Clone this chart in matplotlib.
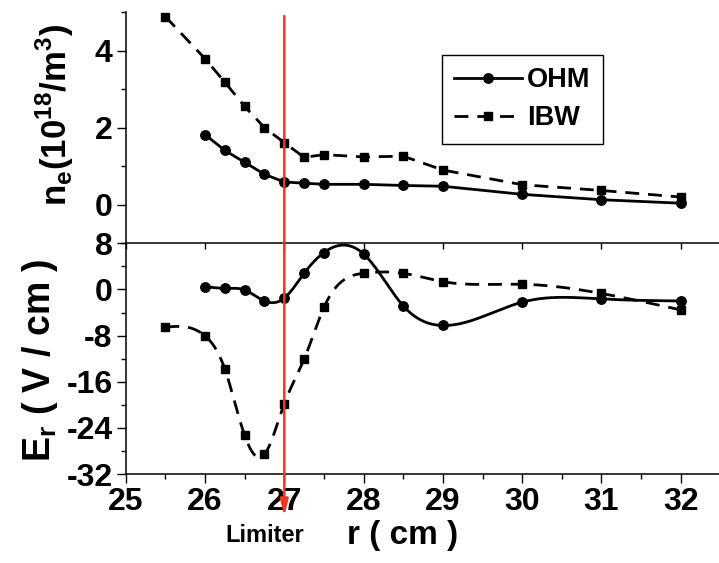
import numpy as np
import matplotlib
matplotlib.use("Agg")
import matplotlib.pyplot as plt
from matplotlib.ticker import MultipleLocator, NullLocator

plt.rcParams["font.family"] = ["Liberation Sans", "DejaVu Sans"]
plt.rcParams["font.weight"] = "bold"
plt.rcParams["axes.unicode_minus"] = False
plt.rcParams["mathtext.fontset"] = "custom"
plt.rcParams["mathtext.rm"] = "Liberation Sans:bold"
plt.rcParams["mathtext.bf"] = "Liberation Sans:bold"

# Electron density profiles n_e (10^18 m^-3)
r_ne_ohm = [26, 26.25, 26.5, 26.75, 27, 27.25, 27.5, 28, 28.5, 29, 30, 31, 32]
ne_ohm = [1.82, 1.41, 1.10, 0.79, 0.59, 0.56, 0.53, 0.53, 0.50, 0.48, 0.27, 0.13, 0.04]
r_ne_ibw = [25.5, 26, 26.25, 26.5, 26.75, 27, 27.25, 27.5, 28, 28.5, 29, 30, 31, 32]
ne_ibw = [4.88, 3.79, 3.18, 2.55, 2.00, 1.61, 1.23, 1.30, 1.24, 1.26, 0.90, 0.52, 0.37, 0.20]

# Radial electric field profiles E_r (V/cm)
r_er_ohm = [26, 26.25, 26.5, 26.75, 27, 27.25, 27.5, 28, 28.5, 29, 30, 31, 32]
er_ohm = [0.5, 0.2, -0.1, -2.0, -1.5, 2.8, 6.4, 6.15, -2.85, -6.25, -2.2, -1.65, -2.0]
r_er_ibw = [25.5, 26, 26.25, 26.5, 26.75, 27, 27.25, 27.5, 28, 28.5, 29, 30, 31, 32]
er_ibw = [-6.55, -8.05, -13.8, -25.3, -28.6, -19.8, -12.1, -3.1, 2.8, 2.8, 1.35, 0.9, -0.7, -3.55]

limiter_r = 27
series_labels = ["OHM", "IBW"]
x_ticks = [25, 26, 27, 28, 29, 30, 31, 32]


def natural_spline(x, y, n=600):
    """Natural cubic spline through (x, y), sampled at n points."""
    x = np.asarray(x, float)
    y = np.asarray(y, float)
    h = np.diff(x)
    m = len(x)
    A = np.zeros((m, m))
    b = np.zeros(m)
    A[0, 0] = A[-1, -1] = 1.0
    for i in range(1, m - 1):
        A[i, i - 1] = h[i - 1]
        A[i, i] = 2 * (h[i - 1] + h[i])
        A[i, i + 1] = h[i]
        b[i] = 6 * ((y[i + 1] - y[i]) / h[i] - (y[i] - y[i - 1]) / h[i - 1])
    M = np.linalg.solve(A, b)
    xs = np.linspace(x[0], x[-1], n)
    idx = np.clip(np.searchsorted(x, xs) - 1, 0, m - 2)
    x0, x1 = x[idx], x[idx + 1]
    hh = x1 - x0
    t0, t1 = x1 - xs, xs - x0
    ys = (M[idx] * t0 ** 3 + M[idx + 1] * t1 ** 3) / (6 * hh) \
        + (y[idx] / hh - M[idx] * hh / 6) * t0 \
        + (y[idx + 1] / hh - M[idx + 1] * hh / 6) * t1
    return xs, ys


W, H = 719, 563
fig = plt.figure(figsize=(W / 100, H / 100), dpi=100)

left = 125.7 / W
y_div = (H - 243.3) / H
y_top = (H - 12) / H
y_bot = (H - 474) / H
ax1 = fig.add_axes([left, y_div, 1 - left, y_top - y_div])
ax2 = fig.add_axes([left, y_bot, 1 - left, y_div - y_bot])

xlim = (25, 25 + (W - 125.7) / 79.3)
lw = 2.0
dash = (5, 3.2)
ms_c, ms_s = 6.8, 6.2

# Top panel: density
h_ohm, = ax1.plot(r_ne_ohm, ne_ohm, "-", color="black", lw=lw, marker="o",
                  ms=ms_c, label=series_labels[0])
h_ibw, = ax1.plot(r_ne_ibw, ne_ibw, "--", color="black", lw=lw, marker="s",
                  ms=ms_s, dashes=dash, label=series_labels[1])
ax1.set_xlim(*xlim)
ax1.set_ylim(-1, 5)
ax1.yaxis.set_major_locator(MultipleLocator(2))
ax1.yaxis.set_minor_locator(MultipleLocator(1))
ax1.set_xticks(x_ticks)
ax1.xaxis.set_minor_locator(NullLocator())
for s in ("top", "right"):
    ax1.spines[s].set_visible(False)

# Bottom panel: radial electric field, spline-connected
xs, ys = natural_spline(r_er_ohm, er_ohm)
ax2.plot(xs, ys, "-", color="black", lw=lw)
ax2.plot(r_er_ohm, er_ohm, "o", color="black", ms=ms_c)
xs, ys = natural_spline(r_er_ibw, er_ibw)
ax2.plot(xs, ys, "--", color="black", lw=lw, dashes=dash)
ax2.plot(r_er_ibw, er_ibw, "s", color="black", ms=ms_s)
ax2.set_xlim(*xlim)
ax2.set_ylim(-32, 8)
ax2.yaxis.set_major_locator(MultipleLocator(8))
ax2.yaxis.set_minor_locator(MultipleLocator(4))
ax2.set_xticks(x_ticks)
ax2.xaxis.set_minor_locator(MultipleLocator(0.5))
for s in ("top", "right"):
    ax2.spines[s].set_visible(False)

for ax in (ax1, ax2):
    for s in ax.spines.values():
        s.set_linewidth(1.1)
    ax.tick_params(which="major", direction="out", length=6.5, width=1,
                   labelsize=23, pad=3)
    ax.tick_params(which="minor", direction="out", length=3.5, width=1)
    ax.patch.set_alpha(0)
ax1.tick_params(axis="x", which="major", length=4, labelbottom=False)

ax2.set_xlabel("r ( cm )", fontsize=24, fontweight="bold", labelpad=2)
ax2.xaxis.set_label_coords((403 - 125.7) / (W - 125.7), -0.20)

fig.text(55 / W, (H - 115) / H,
         r"n$_{\mathbf{e}}$(10$^{\mathbf{18}}$/m$^{\mathbf{3}}$)",
         rotation=90, fontsize=25, fontweight="bold", ha="center", va="center")
fig.text(40 / W, (H - 360) / H, r"E$_{\mathbf{r}}$ ( V / cm )",
         rotation=90, fontsize=27, fontweight="bold", ha="center", va="center")

# Limiter position marker
red = "#f4361c"
ax2.annotate("", xy=(limiter_r, H - 516), xycoords=("data", "figure pixels"),
             xytext=(limiter_r, H - 16), textcoords=("data", "figure pixels"),
             arrowprops=dict(arrowstyle="-|>,head_width=0.3,head_length=1.2",
                             color=red, lw=1.8, mutation_scale=8,
                             shrinkA=0, shrinkB=0),
             annotation_clip=False)
fig.text(265 / W, (H - 536) / H, "Limiter", fontsize=17, fontweight="bold",
         ha="center", va="center")

leg = fig.legend(handles=[h_ohm, h_ibw], loc="upper left",
                 bbox_to_anchor=(441.7 / W, (H - 55) / H), borderaxespad=0,
                 prop=dict(size=19.5, weight="bold"), handlelength=2.5,
                 handletextpad=0.2, labelspacing=0.45, borderpad=0.45,
                 fancybox=False, framealpha=1, edgecolor="black")
leg.get_frame().set_linewidth(1.0)

fig.savefig("out.png", dpi=100)
